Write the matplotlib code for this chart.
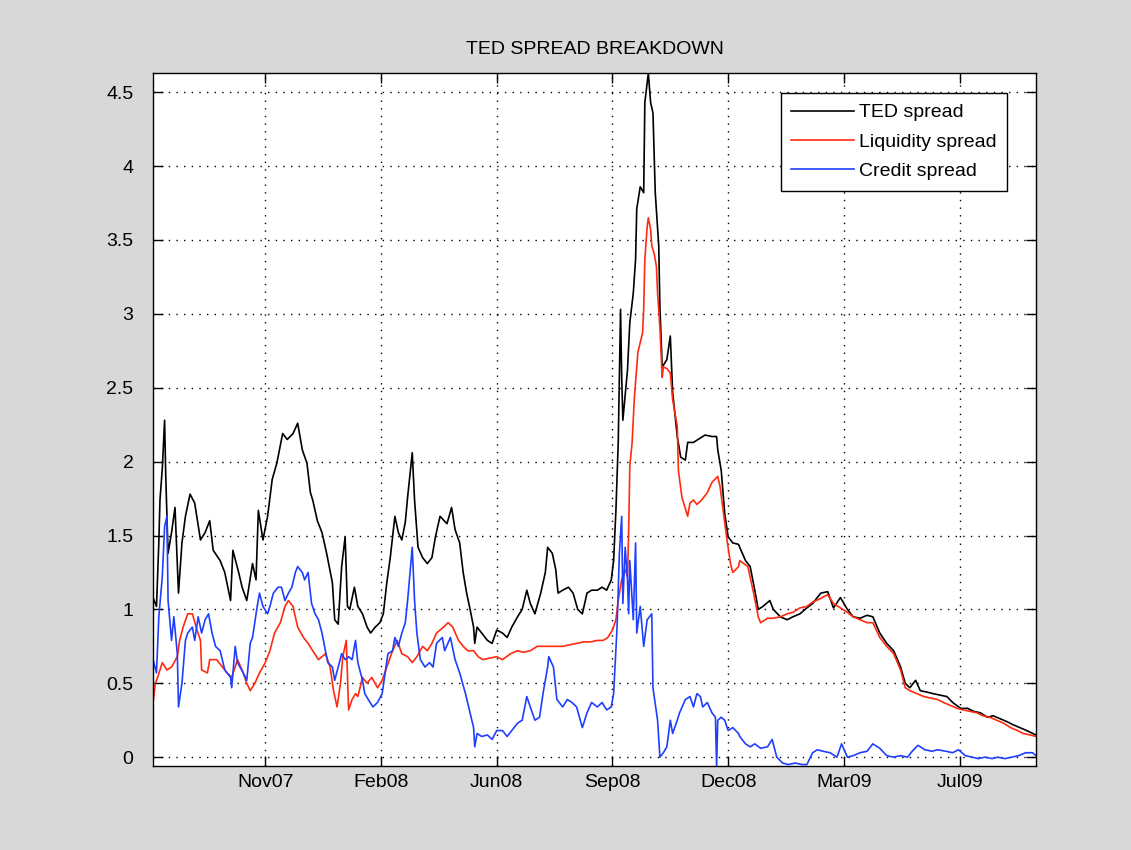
import datetime as dt
import numpy as np
import matplotlib
matplotlib.use("Agg")
import matplotlib.pyplot as plt
import matplotlib.dates as mdates

# days counted from 10-Aug-2007
start = dt.date(2007, 8, 10)

ted_days = [0, 3, 5, 6, 8, 10, 11, 13, 16, 19, 22, 25, 28, 32, 36, 41, 45, 49, 52, 58,
            62, 67, 69, 74, 77, 81, 86, 89, 91, 95, 99, 103, 107, 112, 116, 121, 125, 129, 133, 136,
            138, 142, 146, 150, 155, 157, 160, 163, 166, 168, 170, 174, 177, 181, 185, 188, 192, 196, 199, 202,
            205, 209, 212, 215, 218, 220, 224, 226, 229, 233, 237, 241, 244, 248, 254, 258, 261, 265, 268, 271,
            274, 277, 278, 280, 284, 289, 293, 297, 302, 306, 310, 315, 319, 323, 326, 330, 335, 339, 341, 345,
            348, 350, 354, 359, 363, 367, 371, 375, 379, 384, 388, 392, 396, 398, 400, 402, 403, 404, 405, 406,
            410, 412, 415, 417, 418, 421, 424, 425, 428, 430, 432, 434, 437, 438, 440, 444, 447, 449, 453, 456,
            460, 462, 467, 471, 477, 483, 487, 488, 491, 494, 497, 501, 506, 507, 512, 516, 520, 523, 527, 533,
            536, 542, 548, 553, 559, 565, 570, 577, 583, 588, 594, 600, 605, 611, 617, 622, 628, 634, 640, 646,
            650, 654, 659, 663, 669, 674, 680, 686, 691, 698, 704, 709, 715, 721, 726, 732, 738, 743, 749, 755,
            763]
ted = [1.08, 1.02, 1.45, 1.74, 1.95, 2.28, 1.90, 1.38, 1.52, 1.69, 1.11, 1.45, 1.63, 1.78, 1.72, 1.47, 1.52, 1.60, 1.40, 1.33,
       1.25, 1.06, 1.40, 1.25, 1.15, 1.06, 1.31, 1.20, 1.67, 1.47, 1.63, 1.88, 1.99, 2.19, 2.15, 2.19, 2.26, 2.08, 1.99, 1.79,
       1.74, 1.60, 1.52, 1.38, 1.18, 0.93, 0.90, 1.29, 1.49, 1.02, 1.00, 1.15, 1.02, 0.97, 0.88, 0.84, 0.88, 0.91, 0.97, 1.18,
       1.35, 1.63, 1.52, 1.47, 1.59, 1.76, 2.06, 1.74, 1.42, 1.35, 1.31, 1.35, 1.49, 1.63, 1.58, 1.69, 1.54, 1.45, 1.25, 1.11,
       1.00, 0.88, 0.77, 0.88, 0.84, 0.79, 0.77, 0.86, 0.84, 0.81, 0.88, 0.95, 1.00, 1.13, 1.04, 0.97, 1.11, 1.25, 1.42, 1.38,
       1.27, 1.11, 1.13, 1.15, 1.11, 1.00, 0.97, 1.11, 1.13, 1.13, 1.15, 1.13, 1.20, 1.33, 1.67, 2.13, 2.57, 3.03, 2.57, 2.28,
       2.62, 2.94, 3.14, 3.37, 3.71, 3.86, 3.82, 4.43, 4.63, 4.43, 4.36, 3.82, 3.46, 3.05, 2.64, 2.69, 2.85, 2.47, 2.17, 2.03,
       2.01, 2.13, 2.13, 2.15, 2.18, 2.17, 2.17, 2.08, 1.94, 1.65, 1.49, 1.45, 1.44, 1.42, 1.33, 1.29, 1.13, 1.00, 1.02, 1.06,
       1.00, 0.95, 0.93, 0.95, 0.97, 1.01, 1.04, 1.11, 1.12, 1.01, 1.08, 1.00, 0.95, 0.94, 0.96, 0.95, 0.84, 0.77, 0.72, 0.61,
       0.50, 0.47, 0.52, 0.45, 0.44, 0.43, 0.42, 0.41, 0.37, 0.33, 0.33, 0.31, 0.30, 0.27, 0.28, 0.26, 0.24, 0.22, 0.20, 0.18,
       0.15]

liq_days = [0, 2, 4, 8, 12, 16, 21, 23, 26, 30, 34, 38, 41, 42, 47, 49, 55, 60, 64, 68,
            73, 77, 81, 84, 88, 92, 97, 101, 105, 110, 114, 117, 121, 125, 130, 134, 138, 143, 149, 153,
            156, 159, 162, 164, 167, 169, 172, 175, 177, 181, 185, 189, 194, 198, 202, 207, 211, 215, 220, 224,
            228, 233, 237, 241, 245, 251, 255, 259, 264, 268, 272, 277, 281, 285, 291, 297, 302, 309, 315, 320,
            326, 332, 337, 343, 349, 354, 360, 366, 372, 378, 384, 389, 393, 397, 400, 402, 405, 408, 410, 411,
            412, 414, 416, 419, 423, 424, 425, 427, 428, 430, 431, 433, 435, 436, 438, 440, 441, 444, 447, 449,
            453, 454, 457, 462, 464, 467, 470, 474, 479, 483, 488, 490, 493, 496, 499, 501, 506, 507, 514, 519,
            523, 525, 531, 536, 542, 548, 553, 559, 565, 570, 576, 583, 588, 594, 600, 605, 611, 617, 622, 628,
            634, 640, 646, 650, 654, 660, 666, 672, 678, 683, 689, 695, 700, 706, 712, 717, 723, 729, 735, 741,
            747, 752, 758, 763]
liq = [0.37, 0.50, 0.54, 0.64, 0.59, 0.61, 0.68, 0.79, 0.88, 0.97, 0.97, 0.86, 0.79, 0.59, 0.57, 0.66, 0.66, 0.61, 0.57, 0.54,
       0.66, 0.59, 0.50, 0.45, 0.50, 0.57, 0.64, 0.72, 0.84, 0.91, 1.02, 1.06, 1.02, 0.88, 0.81, 0.77, 0.72, 0.66, 0.70, 0.61,
       0.45, 0.34, 0.50, 0.68, 0.79, 0.32, 0.39, 0.43, 0.41, 0.54, 0.50, 0.54, 0.47, 0.52, 0.61, 0.72, 0.79, 0.70, 0.68, 0.64,
       0.68, 0.75, 0.72, 0.77, 0.84, 0.88, 0.91, 0.88, 0.79, 0.75, 0.72, 0.72, 0.68, 0.66, 0.67, 0.68, 0.66, 0.70, 0.72, 0.71,
       0.72, 0.75, 0.75, 0.75, 0.75, 0.75, 0.76, 0.77, 0.78, 0.78, 0.79, 0.79, 0.81, 0.86, 0.93, 1.06, 1.20, 1.27, 1.22, 1.52,
       1.97, 2.13, 2.44, 2.74, 2.87, 3.03, 3.37, 3.59, 3.65, 3.57, 3.46, 3.41, 3.32, 3.14, 2.91, 2.57, 2.64, 2.63, 2.60, 2.42,
       2.24, 1.94, 1.76, 1.63, 1.72, 1.74, 1.71, 1.74, 1.79, 1.86, 1.90, 1.83, 1.65, 1.47, 1.31, 1.25, 1.29, 1.33, 1.29, 1.11,
       0.95, 0.91, 0.94, 0.94, 0.95, 0.97, 0.98, 1.01, 1.02, 1.05, 1.07, 1.10, 1.04, 1.01, 0.98, 0.95, 0.93, 0.91, 0.91, 0.81,
       0.75, 0.70, 0.59, 0.47, 0.45, 0.43, 0.41, 0.40, 0.39, 0.37, 0.35, 0.33, 0.32, 0.31, 0.30, 0.28, 0.27, 0.25, 0.23, 0.20,
       0.18, 0.16, 0.15, 0.14]

cred_days = [0, 3, 5, 8, 10, 12, 13, 16, 18, 21, 22, 25, 28, 30, 34, 36, 39, 42, 45, 48,
             51, 54, 58, 62, 67, 68, 71, 73, 78, 81, 84, 86, 90, 92, 95, 99, 101, 104, 108, 111,
             114, 117, 120, 123, 125, 129, 131, 134, 137, 140, 143, 146, 149, 151, 155, 157, 160, 163, 166, 169,
             172, 175, 177, 181, 183, 186, 190, 194, 198, 201, 203, 207, 209, 212, 215, 218, 220, 224, 226, 228,
             231, 235, 239, 242, 245, 250, 252, 257, 261, 265, 270, 274, 277, 278, 280, 284, 289, 293, 297, 302,
             306, 310, 315, 319, 323, 326, 330, 334, 337, 341, 342, 346, 349, 354, 358, 362, 366, 371, 375, 379,
             384, 388, 392, 396, 398, 401, 403, 405, 406, 408, 410, 411, 412, 415, 417, 418, 421, 424, 427, 429,
             431, 432, 436, 438, 441, 444, 447, 449, 453, 455, 460, 464, 467, 470, 473, 475, 479, 483, 486, 487,
             488, 491, 494, 497, 501, 506, 507, 512, 516, 520, 525, 531, 535, 539, 544, 549, 555, 561, 565, 570,
             574, 579, 585, 591, 595, 600, 605, 611, 617, 622, 628, 634, 640, 646, 652, 656, 661, 667, 673, 678,
             685, 691, 696, 702, 708, 713, 719, 725, 730, 736, 742, 748, 754, 760, 763]
cred = [0.66, 0.57, 0.95, 1.22, 1.56, 1.63, 1.06, 0.79, 0.95, 0.70, 0.34, 0.50, 0.79, 0.84, 0.88, 0.79, 0.95, 0.84, 0.93, 0.97,
        0.84, 0.75, 0.72, 0.59, 0.54, 0.47, 0.75, 0.64, 0.57, 0.52, 0.77, 0.81, 1.02, 1.11, 1.02, 0.97, 1.02, 1.11, 1.15, 1.15,
        1.06, 1.11, 1.15, 1.25, 1.29, 1.25, 1.20, 1.25, 1.04, 0.97, 0.93, 0.84, 0.72, 0.64, 0.61, 0.52, 0.61, 0.70, 0.66, 0.68,
        0.66, 0.79, 0.64, 0.52, 0.43, 0.39, 0.34, 0.37, 0.43, 0.59, 0.70, 0.72, 0.81, 0.75, 0.84, 0.91, 1.06, 1.42, 1.06, 0.84,
        0.66, 0.61, 0.64, 0.61, 0.77, 0.81, 0.72, 0.81, 0.66, 0.57, 0.43, 0.30, 0.20, 0.07, 0.16, 0.14, 0.15, 0.12, 0.18, 0.18,
        0.14, 0.18, 0.23, 0.25, 0.41, 0.34, 0.25, 0.27, 0.43, 0.61, 0.68, 0.61, 0.39, 0.34, 0.39, 0.37, 0.34, 0.20, 0.30, 0.37,
        0.34, 0.37, 0.32, 0.34, 0.43, 0.88, 1.38, 1.63, 1.04, 1.42, 1.20, 0.97, 1.33, 0.93, 1.45, 0.84, 1.02, 0.75, 0.93, 0.95,
        0.97, 0.47, 0.25, 0.00, 0.03, 0.07, 0.25, 0.16, 0.25, 0.30, 0.39, 0.41, 0.34, 0.43, 0.41, 0.34, 0.37, 0.30, 0.27, -0.06,
        0.25, 0.27, 0.25, 0.18, 0.20, 0.16, 0.14, 0.09, 0.07, 0.09, 0.06, 0.07, 0.12, 0.00, -0.04, -0.05, -0.04, -0.05, -0.05, 0.03,
        0.05, 0.04, 0.03, 0.00, 0.09, 0.00, 0.01, 0.03, 0.04, 0.09, 0.06, 0.01, 0.00, 0.01, 0.00, 0.04, 0.08, 0.05, 0.04, 0.05,
        0.04, 0.03, 0.05, 0.01, 0.00, -0.01, 0.00, -0.01, 0.00, -0.01, 0.00, 0.01, 0.03, 0.03, 0.01]

tick_days = [97, 197, 297, 397, 497, 597, 697]
yticks = [0, 0.5, 1, 1.5, 2, 2.5, 3, 3.5, 4, 4.5]
ytick_labels = ["0", "0.5", "1", "1.5", "2", "2.5", "3", "3.5", "4", "4.5"]


def to_dates(days):
    return [start + dt.timedelta(days=int(d)) for d in days]


plt.rcParams['font.family'] = ['Liberation Sans', 'DejaVu Sans']

fig = plt.figure(figsize=(11.31, 8.5), dpi=100, facecolor='#d8d8d8')
ax = fig.add_axes([0.1353, 0.0988, 0.7807, 0.8153])
ax.set_facecolor('white')

ax.plot(to_dates(ted_days), ted, color='black', lw=1.2, label='TED spread')
ax.plot(to_dates(liq_days), liq, color='#ff2a10', lw=1.2, label='Liquidity spread')
ax.plot(to_dates(cred_days), cred, color='#1f3fff', lw=1.2, label='Credit spread')

# axis tight
ymin = min(min(ted), min(liq), min(cred))
ymax = max(max(ted), max(liq), max(cred))
ax.set_ylim(ymin, ymax)
ax.set_xlim(start, start + dt.timedelta(days=763))

ax.set_xticks(to_dates(tick_days))
ax.xaxis.set_major_formatter(mdates.DateFormatter('%b%y'))
ax.set_yticks(yticks)
ax.set_yticklabels(ytick_labels)

ax.tick_params(direction='in', length=7, width=1, top=True, right=True,
               labelsize=14, colors='black')
ax.tick_params(axis='x', pad=6)
ax.tick_params(axis='y', pad=14)
for s in ax.spines.values():
    s.set_linewidth(1.0)
    s.set_color('black')

ax.grid(True, color='black', linestyle=(0, (1, 4.5)), linewidth=1.0)

ax.set_title('TED SPREAD BREAKDOWN', fontsize=14, pad=14)

leg = ax.legend(loc='upper right', bbox_to_anchor=(0.967, 0.971), fontsize=14,
                fancybox=False, framealpha=1, edgecolor='black', borderpad=0.55,
                handlelength=3.2, handletextpad=0.25, labelspacing=0.6, borderaxespad=0)
leg.get_frame().set_linewidth(1.0)

fig.savefig('out.png', dpi=100, facecolor=fig.get_facecolor())
